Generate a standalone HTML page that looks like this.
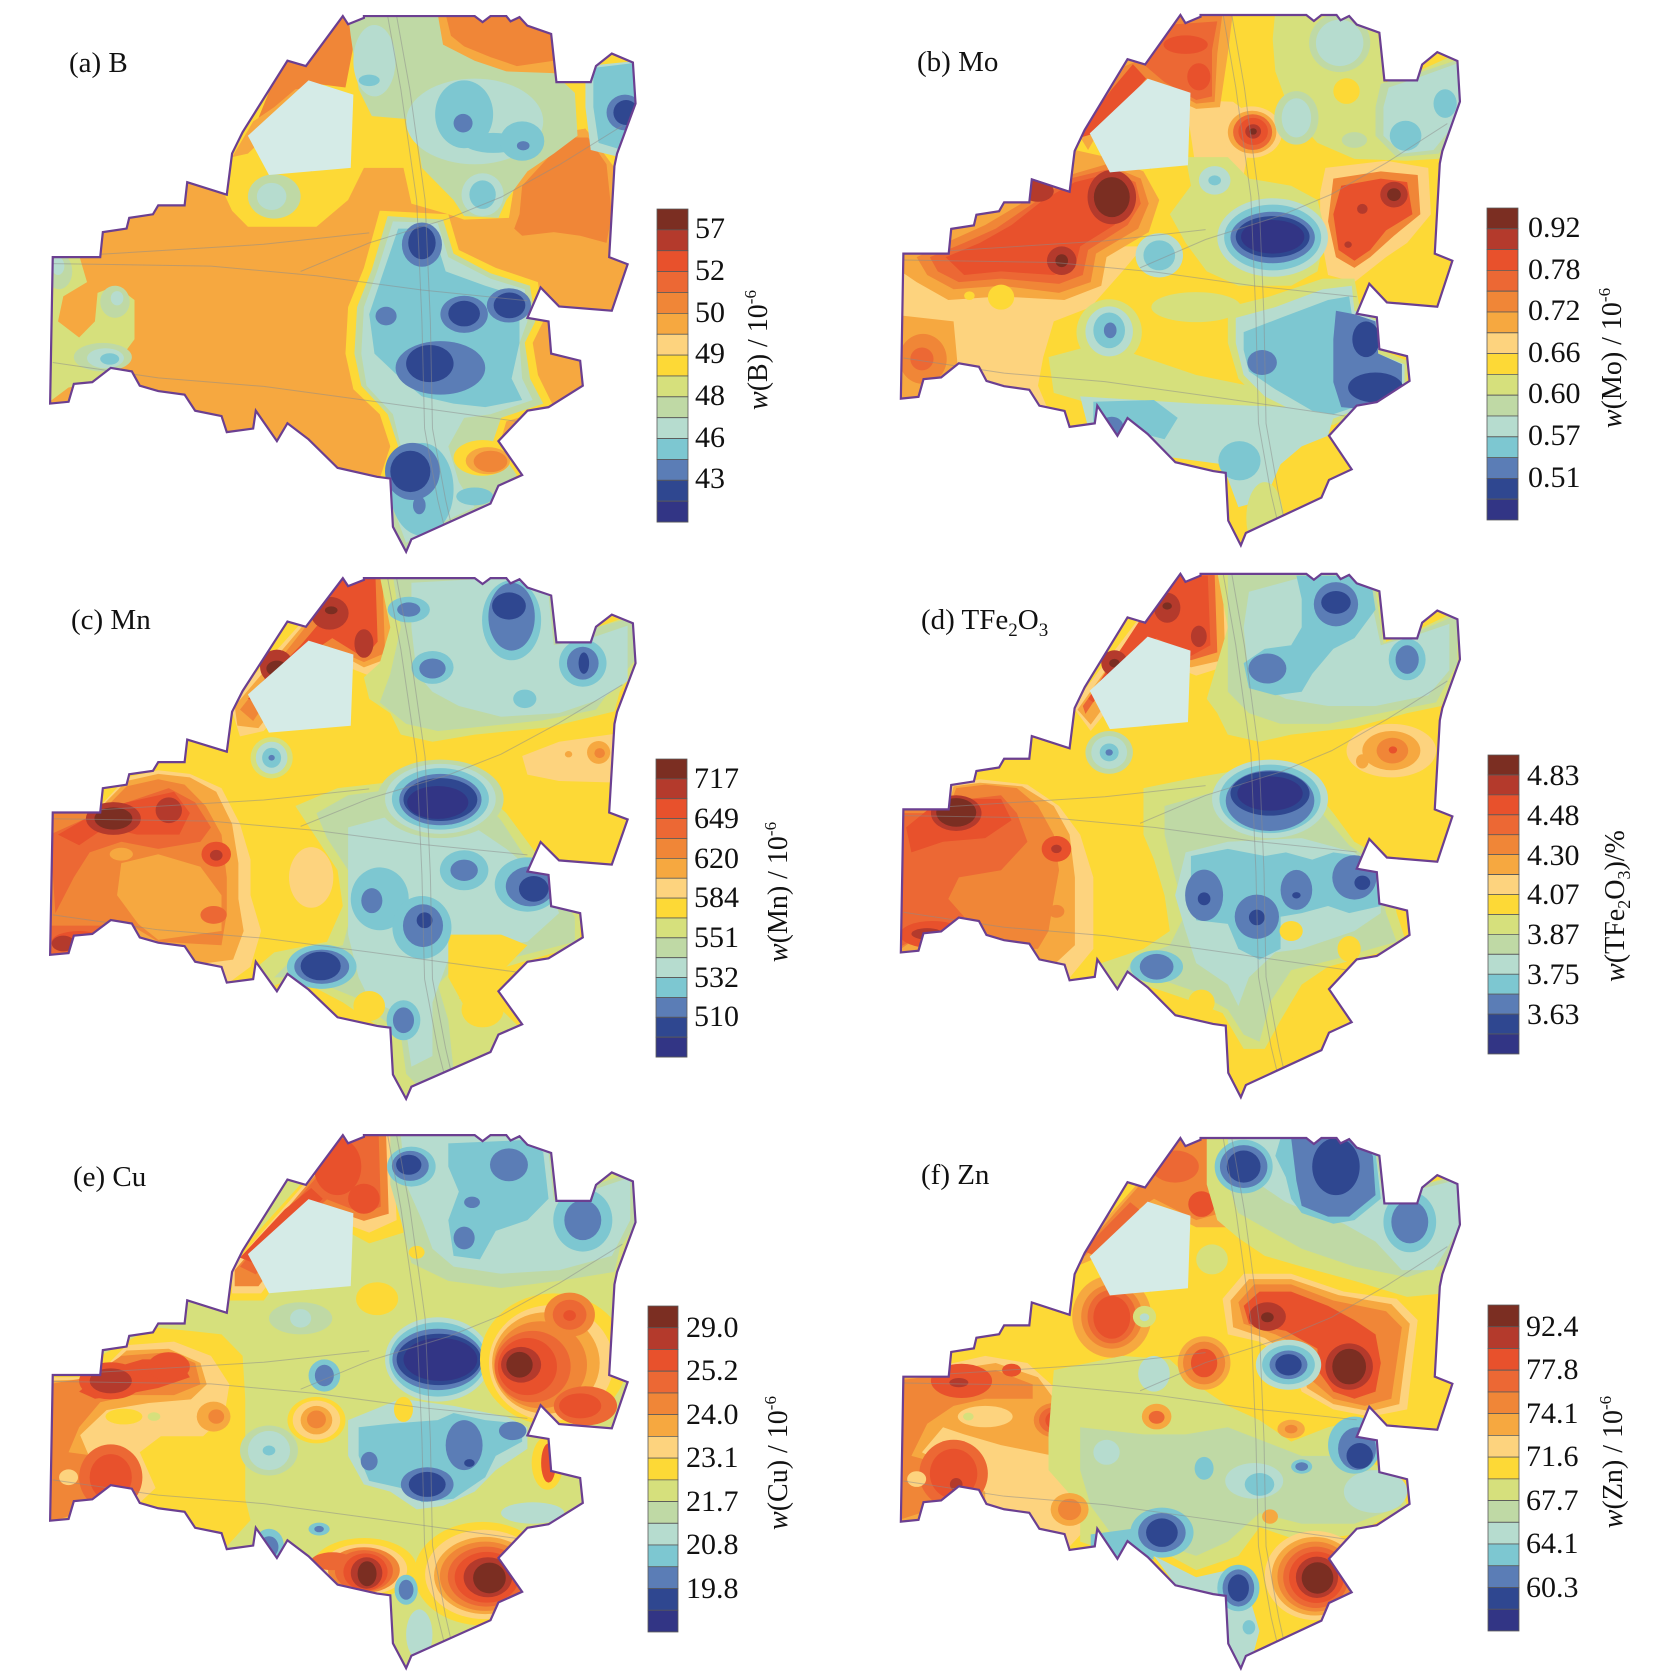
<!DOCTYPE html>
<html><head><meta charset="utf-8">
<style>
html,body{margin:0;padding:0;background:#fff;}
svg{display:block;}
.c1{fill:#7b2e22}.c2{fill:#b43a2c}.c3{fill:#e8512c}.c4{fill:#ec6834}.c5{fill:#f08637}.c6{fill:#f6a840}.c7{fill:#fdd37e}.c8{fill:#fdd936}.c9{fill:#d6e07c}.c10{fill:#bfd9a5}.c11{fill:#b6dccf}.c12{fill:#7dc7d1}.c13{fill:#5b7db6}.c14{fill:#2f4790}.c15{fill:#323585}
#cb rect{stroke:#5a5a5a;stroke-width:0.8px;vector-effect:non-scaling-stroke}
text{font-family:"Liberation Serif",serif;fill:#111}
.lb{font-size:30px}
.pl{font-size:29px}
.tt{font-size:28px}
</style></head>
<body>
<svg width="1654" height="1673" viewBox="0 0 1654 1673" xmlns="http://www.w3.org/2000/svg">
<defs>
<path id="ol" vector-effect="non-scaling-stroke" d="M650,45 L660,68 L690,50 L690,45 L900,45 L915,62 L930,45 L960,45 L968,60 L985,48 L1000,72 L1045,95 L1055,230 L1120,230 L1130,185 L1160,150 L1200,175 L1205,290 L1170,430 L1165,465 L1155,720 L1190,740 L1160,870 L1060,858 L1025,805 L1000,890 L1040,900 L1045,990 L1100,1010 L1105,1080 L1040,1140 L1000,1150 L945,1235 L990,1330 L945,1360 L930,1410 L780,1510 L770,1545 L745,1475 L740,1340 L715,1335 L640,1310 L585,1230 L545,1185 L525,1235 L485,1150 L480,1200 L430,1210 L420,1165 L370,1150 L350,1105 L300,1095 L265,1080 L250,1040 L210,1030 L175,1070 L140,1075 L130,1125 L95,1130 L100,720 L190,720 L195,650 L240,640 L245,610 L290,600 L300,575 L350,575 L355,510 L430,545 L440,430 L460,370 L545,170 L580,185 Z"/>
<path id="lk" d="M470,380 L585,225 L670,265 L665,470 L510,490 Z"/>
<g id="rd" fill="none">
<polyline vector-effect="non-scaling-stroke" points="735,45 760,250 790,560 800,900 805,1200 830,1400 850,1520"/>
<polyline vector-effect="non-scaling-stroke" points="752,45 777,250 806,560 816,900 820,1200 845,1400 862,1510"/>
<polyline vector-effect="non-scaling-stroke" points="100,738 400,745 600,772 800,812 1000,842"/>
<polyline vector-effect="non-scaling-stroke" points="190,712 500,684 700,652"/>
<polyline vector-effect="non-scaling-stroke" points="100,1015 300,1058 500,1082 700,1122 990,1182"/>
<polyline vector-effect="non-scaling-stroke" points="570,760 700,680 850,612 950,552 1060,462 1180,352"/>
<polyline vector-effect="non-scaling-stroke" points="600,380 665,380"/>
<polyline vector-effect="non-scaling-stroke" points="600,380 590,480"/>
</g>
<g id="cb">
<rect class="c1" x="0" y="0" width="1" height="1"/>
<rect class="c2" x="0" y="1" width="1" height="1"/>
<rect class="c3" x="0" y="2" width="1" height="1"/>
<rect class="c4" x="0" y="3" width="1" height="1"/>
<rect class="c5" x="0" y="4" width="1" height="1"/>
<rect class="c6" x="0" y="5" width="1" height="1"/>
<rect class="c7" x="0" y="6" width="1" height="1"/>
<rect class="c8" x="0" y="7" width="1" height="1"/>
<rect class="c9" x="0" y="8" width="1" height="1"/>
<rect class="c10" x="0" y="9" width="1" height="1"/>
<rect class="c11" x="0" y="10" width="1" height="1"/>
<rect class="c12" x="0" y="11" width="1" height="1"/>
<rect class="c13" x="0" y="12" width="1" height="1"/>
<rect class="c14" x="0" y="13" width="1" height="1"/>
<rect class="c15" x="0" y="14" width="1" height="1"/>
</g>
<clipPath id="clA"><use href="#ol"/></clipPath>
<clipPath id="clB"><use href="#ol" transform="matrix(0.955,0,0,0.99,49.3,-2.6)"/></clipPath>
<clipPath id="clC"><use href="#ol" transform="matrix(1,0,0,0.972,0,18.3)"/></clipPath>
<clipPath id="clD"><use href="#ol" transform="matrix(0.955,0,0,0.977,49.3,6)"/></clipPath>
<clipPath id="clE"><use href="#ol" transform="matrix(1,0,0,0.995,0,17.2)"/></clipPath>
<clipPath id="clF"><use href="#ol" transform="matrix(0.955,0,0,0.99,49.3,25.5)"/></clipPath>
</defs>
<rect width="1654" height="1673" fill="#fff"/>

<!-- ========== PANEL A ========== -->
<g transform="translate(0,0) scale(0.52742,0.35714)">
<g clip-path="url(#clA)">
<rect class="c6" width="1568" height="1568"/>
<polygon class="c8" points="380,0 1240,0 1240,480 1165,470 1140,420 1110,360 1070,370 1020,430 975,520 965,610 880,615 850,600 780,570 765,470 690,470 660,560 600,635 470,635 440,590 380,400"/>
<polygon class="c5" points="540,150 640,30 700,30 670,130 655,245 600,235 560,265 520,330 490,330"/>
<polygon class="c6" points="440,440 480,340 520,300 560,250 600,245 570,300 520,360 470,430"/>
<polygon class="c6" points="965,620 975,520 1020,430 1070,370 1110,360 1140,420 1165,470 1240,480 1240,800 1150,800"/>
<polygon class="c5" points="985,600 990,520 1040,440 1085,385 1115,385 1150,460 1160,600 1150,680 1100,660 1050,650 990,660 975,640"/>
<polygon class="c10" points="660,40 840,40 850,110 900,160 1000,195 1050,205 1090,260 1095,380 1050,430 1000,480 960,560 945,610 880,605 860,560 800,470 785,335 705,325 680,250 665,100"/>
<ellipse class="c11" cx="710" cy="170" rx="40" ry="100"/>
<ellipse class="c12" cx="700" cy="225" rx="20" ry="16"/>
<ellipse class="c11" cx="900" cy="340" rx="130" ry="120"/>
<ellipse class="c12" cx="935" cy="400" rx="55" ry="28"/>
<ellipse class="c12" cx="880" cy="320" rx="55" ry="95"/>
<ellipse class="c13" cx="878" cy="345" rx="18" ry="26"/>
<ellipse class="c12" cx="990" cy="395" rx="42" ry="55"/>
<ellipse class="c13" cx="992" cy="408" rx="12" ry="13"/>
<ellipse class="c11" cx="915" cy="545" rx="40" ry="60"/>
<ellipse class="c12" cx="915" cy="545" rx="25" ry="40"/>
<polygon class="c6" points="830,40 1010,40 1050,90 1055,205 960,200 900,170 840,125"/>
<polygon class="c5" points="845,40 1000,40 1045,95 1050,170 980,185 930,160 880,130 855,100"/>
<polygon class="c11" points="1110,185 1210,170 1215,300 1175,440 1120,420 1110,300"/>
<polygon class="c12" points="1125,190 1210,175 1212,300 1180,420 1135,400 1125,300"/>
<ellipse class="c13" cx="1185" cy="315" rx="35" ry="50"/>
<ellipse class="c14" cx="1187" cy="315" rx="24" ry="35"/>
<ellipse class="c10" cx="520" cy="550" rx="50" ry="62"/>
<ellipse class="c11" cx="515" cy="550" rx="28" ry="38"/>
<polygon class="c8" points="720,590 850,600 870,700 940,750 1020,790 1030,900 1010,960 1020,1050 1050,1140 960,1180 950,1230 995,1330 940,1370 930,1420 780,1510 770,1545 740,1470 720,1340 740,1250 720,1160 670,1090 655,990 660,860 690,750"/>
<polygon class="c10" points="735,605 840,615 860,710 930,765 1005,800 1015,900 995,960 1005,1060 1030,1130 950,1170 935,1235 980,1330 930,1410 780,1510 770,1545 745,1470 735,1340 755,1250 735,1160 685,1080 672,990 677,860 705,755"/>
<polygon class="c11" points="745,620 830,625 850,720 930,780 995,810 1000,900 985,960 990,1060 1010,1120 930,1160 880,1170 850,1250 870,1350 900,1420 800,1490 770,1520 755,1460 745,1340 760,1250 745,1160 695,1080 685,990 690,860 715,760"/>
<polygon class="c12" points="755,640 820,640 845,760 920,800 985,830 985,960 970,1060 990,1120 920,1140 860,1130 800,1110 760,1060 710,990 700,880 725,770"/>
<ellipse class="c12" cx="800" cy="1370" rx="60" ry="130"/>
<ellipse class="c12" cx="900" cy="1390" rx="35" ry="25"/>
<ellipse class="c13" cx="800" cy="685" rx="38" ry="62"/>
<ellipse class="c14" cx="800" cy="680" rx="26" ry="46"/>
<ellipse class="c13" cx="880" cy="880" rx="45" ry="52"/>
<ellipse class="c14" cx="880" cy="878" rx="30" ry="36"/>
<ellipse class="c13" cx="965" cy="855" rx="42" ry="48"/>
<ellipse class="c14" cx="966" cy="855" rx="30" ry="36"/>
<ellipse class="c13" cx="835" cy="1030" rx="85" ry="75"/>
<ellipse class="c14" cx="815" cy="1018" rx="45" ry="52"/>
<ellipse class="c13" cx="732" cy="885" rx="20" ry="26"/>
<ellipse class="c13" cx="782" cy="1320" rx="52" ry="80"/>
<ellipse class="c14" cx="778" cy="1320" rx="38" ry="58"/>
<ellipse class="c13" cx="795" cy="1415" rx="12" ry="25"/>
<ellipse class="c8" cx="915" cy="1282" rx="55" ry="50"/>
<ellipse class="c6" cx="925" cy="1290" rx="42" ry="38"/>
<ellipse class="c5" cx="930" cy="1292" rx="32" ry="30"/>
<polygon class="c9" points="80,700 150,715 165,790 120,830 110,900 150,945 180,900 185,820 220,800 255,840 255,950 230,1000 215,1035 170,1075 130,1085 80,1140"/>
<ellipse class="c10" cx="112" cy="760" rx="25" ry="50"/>
<ellipse class="c11" cx="110" cy="745" rx="12" ry="25"/>
<ellipse class="c10" cx="218" cy="845" rx="28" ry="45"/>
<ellipse class="c11" cx="222" cy="835" rx="12" ry="20"/>
<ellipse class="c10" cx="195" cy="1000" rx="55" ry="40"/>
<ellipse class="c11" cx="200" cy="1003" rx="35" ry="28"/>
<ellipse class="c12" cx="208" cy="1005" rx="18" ry="16"/>
<use href="#rd" stroke="#8c8c8c" stroke-opacity="0.5" stroke-width="1"/>
</g>
<use href="#lk" fill="#d5ebe7"/>
<use href="#ol" fill="none" stroke="#6b3f91" stroke-width="2.2"/>
</g>

<!-- ========== PANEL B ========== -->
<g transform="translate(827,0) scale(0.52742,0.35714)">
<g clip-path="url(#clB)">
<rect class="c8" width="1568" height="1568"/>
<polygon class="c7" points="100,690 600,690 560,760 500,860 430,900 410,1000 400,1080 420,1150 100,1160"/>
<polygon class="c7" points="680,280 770,285 810,330 790,490 700,480"/>
<polygon class="c6" points="120,880 240,900 250,1060 185,1070 180,1130 120,1140"/>
<ellipse class="c5" cx="182" cy="1005" rx="45" ry="70"/>
<ellipse class="c4" cx="180" cy="1005" rx="22" ry="32"/>
<polygon class="c6" points="470,360 560,170 600,150 660,30 770,30 760,150 745,300 700,305 610,245 530,330 495,420"/>
<polygon class="c5" points="485,370 565,185 605,160 665,35 750,35 740,150 735,285 700,290 640,240 560,285 515,345"/>
<polygon class="c4" points="600,180 640,70 740,60 730,140 730,270 700,280 640,230"/>
<ellipse class="c3" cx="680" cy="125" rx="42" ry="26"/>
<ellipse class="c3" cx="705" cy="215" rx="22" ry="38"/>
<polygon class="c3" points="470,390 540,250 580,180 605,220 560,300 515,370"/>
<polygon class="c6" points="140,700 235,650 240,605 290,600 300,575 375,565 380,505 460,470 470,420 530,440 600,480 630,560 610,650 530,720 520,800 450,840 330,830 230,840 170,790 140,760"/>
<polygon class="c5" points="170,720 240,670 300,630 380,560 460,490 530,460 595,500 610,570 590,640 510,710 500,790 440,820 330,800 240,810 190,770"/>
<polygon class="c4" points="195,720 260,680 320,640 390,570 460,500 530,475 585,510 595,570 570,630 495,700 485,770 440,795 330,780 250,790 210,760"/>
<polygon class="c3" points="225,720 290,680 350,630 410,560 470,510 525,490 570,520 575,580 545,630 480,690 470,750 430,770 330,760 260,770"/>
<ellipse class="c2" cx="540" cy="552" rx="46" ry="76"/>
<ellipse class="c1" cx="540" cy="552" rx="34" ry="56"/>
<ellipse class="c2" cx="445" cy="730" rx="28" ry="40"/>
<ellipse class="c1" cx="445" cy="730" rx="12" ry="18"/>
<ellipse class="c2" cx="400" cy="535" rx="30" ry="30"/>
<ellipse class="c8" cx="330" cy="832" rx="25" ry="35"/>
<ellipse class="c8" cx="270" cy="828" rx="10" ry="12"/>
<ellipse class="c7" cx="805" cy="370" rx="58" ry="72"/>
<ellipse class="c6" cx="806" cy="370" rx="46" ry="60"/>
<ellipse class="c4" cx="807" cy="370" rx="37" ry="50"/>
<ellipse class="c3" cx="808" cy="368" rx="28" ry="38"/>
<ellipse class="c2" cx="808" cy="368" rx="15" ry="20"/>
<ellipse class="c1" cx="808" cy="368" rx="7" ry="9"/>
<polygon class="c9" points="850,30 1010,30 1045,95 1060,230 1120,200 1210,140 1210,440 1100,450 1000,445 930,400 880,320 850,200 845,110"/>
<ellipse class="c10" cx="972" cy="120" rx="58" ry="82"/>
<ellipse class="c11" cx="972" cy="120" rx="45" ry="65"/>
<ellipse class="c8" cx="985" cy="255" rx="25" ry="36"/>
<ellipse class="c10" cx="890" cy="330" rx="42" ry="75"/>
<ellipse class="c11" cx="890" cy="330" rx="28" ry="55"/>
<polygon class="c10" points="1050,235 1120,205 1210,160 1210,340 1160,430 1080,440 1040,380 1040,300"/>
<polygon class="c11" points="1065,245 1125,215 1200,175 1200,330 1150,420 1090,430 1055,380 1055,300"/>
<ellipse class="c12" cx="1097" cy="380" rx="30" ry="42"/>
<ellipse class="c12" cx="1172" cy="290" rx="22" ry="40"/>
<ellipse class="c10" cx="1000" cy="392" rx="24" ry="22"/>
<polygon class="c7" points="945,470 1060,450 1140,470 1145,600 1100,680 1060,720 1000,790 950,770 935,650 935,540"/>
<polygon class="c5" points="960,500 1050,480 1120,490 1125,600 1075,660 1030,720 1000,750 965,720 950,620"/>
<polygon class="c3" points="975,520 1050,500 1100,510 1110,600 1060,645 1030,700 1000,730 970,700 960,600"/>
<ellipse class="c2" cx="1075" cy="545" rx="26" ry="36"/>
<ellipse class="c1" cx="1075" cy="545" rx="13" ry="18"/>
<ellipse class="c2" cx="1015" cy="585" rx="10" ry="14"/>
<ellipse class="c2" cx="988" cy="685" rx="7" ry="9"/>
<polygon class="c9" points="680,440 760,440 800,500 880,520 930,560 945,650 930,760 880,800 780,800 720,760 680,680 650,600 690,520"/>
<ellipse class="c11" cx="845" cy="665" rx="105" ry="110"/>
<ellipse class="c12" cx="845" cy="665" rx="92" ry="92"/>
<ellipse class="c13" cx="845" cy="665" rx="80" ry="72"/>
<ellipse class="c14" cx="845" cy="663" rx="70" ry="58"/>
<ellipse class="c15" cx="845" cy="663" rx="60" ry="47"/>
<ellipse class="c11" cx="735" cy="505" rx="30" ry="40"/>
<ellipse class="c12" cx="735" cy="505" rx="12" ry="14"/>
<ellipse class="c11" cx="630" cy="715" rx="45" ry="62"/>
<ellipse class="c12" cx="630" cy="715" rx="30" ry="42"/>
<ellipse class="c9" cx="700" cy="860" rx="85" ry="42"/>
<polygon class="c9" points="420,1000 520,960 600,1000 700,1050 800,1080 950,1110 960,1180 700,1150 500,1130 430,1100"/>
<ellipse class="c9" cx="535" cy="930" rx="62" ry="92"/>
<ellipse class="c11" cx="535" cy="928" rx="45" ry="70"/>
<ellipse class="c12" cx="535" cy="925" rx="30" ry="50"/>
<ellipse class="c13" cx="537" cy="925" rx="12" ry="22"/>
<polygon class="c9" points="760,860 840,830 940,780 1000,780 1010,860 1050,890 1050,980 1100,1010 1100,1090 1000,1160 960,1190 900,1180 820,1120 780,1060 760,960"/>
<polygon class="c11" points="775,890 850,860 940,810 995,800 1000,870 1045,900 1045,990 1095,1020 1095,1085 1000,1150 955,1175 905,1165 830,1110 790,1050 775,960"/>
<polygon class="c12" points="790,930 860,890 950,840 990,830 995,880 1040,900 1045,990 1090,1020 1090,1080 1000,1140 960,1160 920,1150 850,1090 800,1040 790,980"/>
<polygon class="c13" points="965,870 1000,880 1040,900 1045,990 1090,1020 1090,1080 1010,1145 975,1140 960,1070 960,950"/>
<ellipse class="c14" cx="1022" cy="950" rx="26" ry="50"/>
<ellipse class="c14" cx="1040" cy="1085" rx="52" ry="42"/>
<ellipse class="c13" cx="825" cy="1015" rx="28" ry="35"/>
<polygon class="c11" points="480,1110 700,1130 880,1140 960,1170 950,1220 900,1250 860,1300 830,1400 780,1420 750,1300 700,1290 650,1280 600,1210 550,1235 500,1225"/>
<polygon class="c12" points="505,1125 620,1120 665,1170 640,1230 600,1215 555,1235 505,1220"/>
<ellipse class="c13" cx="540" cy="1195" rx="22" ry="28"/>
<ellipse class="c12" cx="782" cy="1290" rx="40" ry="55"/>
<ellipse class="c9" cx="830" cy="1450" rx="35" ry="100"/>
<use href="#rd" transform="matrix(0.955,0,0,0.99,49.3,-2.6)" stroke="#8c8c8c" stroke-opacity="0.5" stroke-width="1"/>
</g>
<use href="#lk" transform="matrix(0.955,0,0,0.99,49.3,-2.6)" fill="#d5ebe7"/>
<use href="#ol" transform="matrix(0.955,0,0,0.99,49.3,-2.6)" fill="none" stroke="#6b3f91" stroke-width="2.2"/>
</g>

<!-- ========== PANEL C ========== -->
<g transform="translate(0,556) scale(0.52742,0.35714)">
<g clip-path="url(#clC)">
<rect class="c8" width="1568" height="1568"/>
<ellipse class="c7" cx="590" cy="900" rx="42" ry="85"/>
<polygon class="c7" points="990,560 1060,520 1180,495 1180,635 1060,630 1000,612"/>
<ellipse class="c6" cx="1135" cy="550" rx="22" ry="32"/>
<ellipse class="c5" cx="1137" cy="552" rx="10" ry="14"/>
<ellipse class="c6" cx="1078" cy="555" rx="7" ry="9"/>
<polygon class="c7" points="435,410 600,140 650,55 755,55 765,150 765,300 700,335 640,300 560,380 500,490 455,505"/>
<polygon class="c6" points="445,420 600,150 650,55 740,55 748,280 690,312 640,272 560,352 490,482 450,475"/>
<polygon class="c5" points="455,430 600,160 650,55 725,55 730,272 690,297 620,252 540,332 480,462"/>
<polygon class="c3" points="470,400 570,250 610,180 640,62 712,62 716,240 690,285 630,230 560,300 500,412"/>
<ellipse class="c2" cx="625" cy="160" rx="36" ry="46"/>
<ellipse class="c1" cx="628" cy="152" rx="12" ry="11"/>
<ellipse class="c2" cx="690" cy="245" rx="18" ry="40"/>
<ellipse class="c2" cx="525" cy="310" rx="32" ry="48"/>
<ellipse class="c1" cx="525" cy="315" rx="20" ry="22"/>
<polygon class="c7" points="80,700 190,700 240,620 300,600 360,610 420,650 455,750 475,850 475,950 495,1050 475,1150 420,1210 80,1210"/>
<polygon class="c6" points="80,705 190,705 240,630 300,610 360,620 410,660 440,750 452,860 452,960 462,1050 442,1130 80,1200"/>
<polygon class="c5" points="90,720 190,720 240,645 300,625 350,640 390,700 420,780 430,900 430,1000 420,1090 300,1080 255,1040 210,1030 170,1070 80,1120"/>
<polygon class="c6" points="230,860 300,835 380,870 420,950 420,1050 300,1075 262,1030 222,950"/>
<polygon class="c4" points="95,780 170,730 240,690 320,650 370,690 400,760 380,800 300,820 230,800 170,830 140,900 105,1000"/>
<polygon class="c3" points="110,780 180,720 240,690 330,660 360,720 340,780 260,780 200,760 150,810"/>
<ellipse class="c2" cx="215" cy="735" rx="52" ry="46"/>
<ellipse class="c1" cx="215" cy="735" rx="36" ry="31"/>
<ellipse class="c2" cx="320" cy="712" rx="25" ry="36"/>
<ellipse class="c3" cx="410" cy="835" rx="28" ry="35"/>
<ellipse class="c2" cx="410" cy="838" rx="12" ry="15"/>
<polygon class="c4" points="90,1035 205,1035 205,1110 80,1125"/>
<ellipse class="c3" cx="150" cy="1080" rx="52" ry="30"/>
<ellipse class="c2" cx="120" cy="1085" rx="22" ry="22"/>
<ellipse class="c6" cx="230" cy="835" rx="22" ry="18"/>
<ellipse class="c4" cx="405" cy="1005" rx="25" ry="25"/>
<ellipse class="c9" cx="515" cy="565" rx="40" ry="58"/>
<ellipse class="c11" cx="515" cy="565" rx="30" ry="45"/>
<ellipse class="c12" cx="515" cy="565" rx="18" ry="28"/>
<ellipse class="c13" cx="515" cy="565" rx="6" ry="8"/>
<polygon class="c9" points="720,55 1010,55 1045,100 1060,240 1130,200 1210,160 1210,300 1175,380 1165,435 1040,480 900,500 820,520 760,500 740,440 700,400 690,340 720,300 740,200"/>
<polygon class="c10" points="745,55 1005,55 1045,100 1060,240 1130,200 1205,170 1205,290 1160,370 1130,430 1030,460 900,480 830,490 770,470 720,410 740,330 760,200"/>
<polygon class="c11" points="780,75 900,65 1005,65 1040,110 1050,250 1120,230 1190,195 1190,350 1140,400 1060,440 950,450 870,420 820,380 790,330 780,200"/>
<ellipse class="c12" cx="970" cy="180" rx="56" ry="112"/>
<ellipse class="c13" cx="970" cy="170" rx="44" ry="95"/>
<ellipse class="c14" cx="965" cy="140" rx="32" ry="38"/>
<ellipse class="c12" cx="1105" cy="300" rx="45" ry="66"/>
<ellipse class="c13" cx="1105" cy="300" rx="30" ry="46"/>
<ellipse class="c14" cx="1107" cy="300" rx="10" ry="30"/>
<ellipse class="c12" cx="820" cy="312" rx="40" ry="46"/>
<ellipse class="c13" cx="820" cy="315" rx="25" ry="28"/>
<ellipse class="c12" cx="775" cy="150" rx="40" ry="36"/>
<ellipse class="c13" cx="775" cy="150" rx="22" ry="20"/>
<ellipse class="c12" cx="995" cy="400" rx="22" ry="26"/>
<polygon class="c9" points="560,700 640,650 760,630 900,640 960,720 1000,800 1040,880 1100,1010 1100,1090 960,1150 890,1200 870,1240 930,1240 985,1320 930,1400 780,1500 765,1520 745,1450 740,1340 700,1300 650,1250 560,1180 490,1220 480,1160 520,1110 620,1080 650,980 640,880 600,790"/>
<polygon class="c10" points="600,720 660,670 760,650 900,660 950,740 990,830 1030,900 1090,1010 1090,1080 960,1130 870,1140 830,1200 850,1300 860,1440 790,1480 770,1450 760,1340 720,1290 680,1240 580,1180 520,1180 560,1120 650,1090 670,980 660,880 620,790"/>
<polygon class="c11" points="660,760 760,720 880,740 960,820 1040,920 1060,1000 1000,1080 900,1100 850,1130 820,1250 820,1400 780,1430 770,1330 740,1270 700,1240 680,1180 660,1060 660,900"/>
<polygon class="c8" points="850,1060 950,1060 1000,1090 960,1150 900,1200 880,1260 850,1180"/>
<ellipse class="c8" cx="915" cy="1270" rx="40" ry="50"/>
<ellipse class="c8" cx="700" cy="1260" rx="30" ry="42"/>
<ellipse class="c12" cx="720" cy="960" rx="55" ry="88"/>
<ellipse class="c13" cx="705" cy="965" rx="20" ry="35"/>
<ellipse class="c12" cx="800" cy="1040" rx="56" ry="88"/>
<ellipse class="c13" cx="802" cy="1035" rx="38" ry="60"/>
<ellipse class="c14" cx="805" cy="1020" rx="15" ry="22"/>
<ellipse class="c12" cx="880" cy="880" rx="46" ry="56"/>
<ellipse class="c13" cx="880" cy="880" rx="26" ry="30"/>
<ellipse class="c12" cx="1000" cy="920" rx="62" ry="76"/>
<ellipse class="c13" cx="1005" cy="925" rx="46" ry="56"/>
<ellipse class="c14" cx="1012" cy="932" rx="28" ry="36"/>
<ellipse class="c12" cx="610" cy="1150" rx="66" ry="62"/>
<ellipse class="c13" cx="610" cy="1150" rx="52" ry="48"/>
<ellipse class="c14" cx="608" cy="1148" rx="38" ry="40"/>
<ellipse class="c12" cx="765" cy="1300" rx="32" ry="56"/>
<ellipse class="c13" cx="765" cy="1300" rx="20" ry="36"/>
<ellipse class="c10" cx="835" cy="680" rx="120" ry="110"/>
<ellipse class="c11" cx="835" cy="680" rx="105" ry="98"/>
<ellipse class="c12" cx="835" cy="680" rx="92" ry="86"/>
<ellipse class="c13" cx="835" cy="682" rx="78" ry="72"/>
<ellipse class="c14" cx="835" cy="682" rx="70" ry="60"/>
<ellipse class="c15" cx="830" cy="690" rx="58" ry="46"/>
<use href="#rd" transform="matrix(1,0,0,0.972,0,18.3)" stroke="#8c8c8c" stroke-opacity="0.5" stroke-width="1"/>
</g>
<use href="#lk" transform="matrix(1,0,0,0.972,0,18.3)" fill="#d5ebe7"/>
<use href="#ol" transform="matrix(1,0,0,0.972,0,18.3)" fill="none" stroke="#6b3f91" stroke-width="2.2"/>
</g>

<!-- ========== PANEL D ========== -->
<g transform="translate(827,556) scale(0.52742,0.35714)">
<g clip-path="url(#clD)">
<rect class="c8" width="1568" height="1568"/>
<ellipse class="c7" cx="1070" cy="545" rx="85" ry="75"/>
<ellipse class="c6" cx="1070" cy="545" rx="55" ry="55"/>
<ellipse class="c5" cx="1072" cy="545" rx="30" ry="36"/>
<ellipse class="c3" cx="1073" cy="543" rx="8" ry="10"/>
<ellipse class="c6" cx="1015" cy="575" rx="12" ry="20"/>
<polygon class="c7" points="465,420 630,100 665,45 770,45 775,150 775,300 700,335 640,300 560,380 500,490"/>
<polygon class="c6" points="475,430 630,110 665,45 750,45 755,290 690,312 640,272 560,352 500,472"/>
<polygon class="c4" points="485,420 630,120 665,50 735,50 740,270 690,292 620,252 540,332 490,442"/>
<polygon class="c3" points="495,400 620,120 650,55 722,55 727,250 690,280 625,230 555,300 505,410"/>
<ellipse class="c2" cx="645" cy="145" rx="25" ry="42"/>
<ellipse class="c1" cx="645" cy="140" rx="9" ry="10"/>
<ellipse class="c2" cx="545" cy="300" rx="25" ry="36"/>
<ellipse class="c1" cx="545" cy="300" rx="10" ry="12"/>
<ellipse class="c2" cx="705" cy="225" rx="15" ry="30"/>
<polygon class="c7" points="120,700 230,700 235,640 290,625 380,640 440,700 480,780 505,900 505,1000 505,1100 455,1190 120,1200"/>
<polygon class="c6" points="120,705 230,705 240,645 290,635 370,645 430,700 460,780 470,900 470,1000 470,1090 430,1145 120,1200"/>
<polygon class="c5" points="125,710 230,710 245,650 300,640 360,650 400,700 430,780 440,880 430,960 420,1050 400,1100 350,1100 300,1080 240,1020 170,1070 125,1115"/>
<polygon class="c4" points="130,720 230,720 270,680 330,670 360,720 380,800 330,880 250,900 230,960 260,1010 200,1050 130,1100"/>
<polygon class="c3" points="150,760 200,700 270,680 330,680 350,740 300,790 220,800 160,830"/>
<ellipse class="c2" cx="245" cy="720" rx="48" ry="50"/>
<ellipse class="c1" cx="245" cy="718" rx="38" ry="40"/>
<ellipse class="c3" cx="435" cy="820" rx="28" ry="36"/>
<ellipse class="c2" cx="435" cy="820" rx="10" ry="12"/>
<ellipse class="c3" cx="200" cy="1060" rx="62" ry="38"/>
<ellipse class="c2" cx="190" cy="1058" rx="30" ry="16"/>
<ellipse class="c5" cx="435" cy="995" rx="15" ry="18"/>
<ellipse class="c10" cx="535" cy="550" rx="45" ry="60"/>
<ellipse class="c11" cx="535" cy="550" rx="34" ry="46"/>
<ellipse class="c12" cx="535" cy="550" rx="18" ry="25"/>
<ellipse class="c13" cx="535" cy="550" rx="7" ry="9"/>
<polygon class="c9" points="740,45 1010,45 1045,100 1060,240 1130,200 1200,150 1200,300 1165,420 1100,440 1000,480 880,500 820,520 760,500 740,440 720,400 740,300 760,200"/>
<polygon class="c10" points="760,50 1005,50 1040,100 1055,245 1130,205 1195,165 1195,300 1155,410 1050,440 950,470 860,470 800,440 760,380 760,200"/>
<polygon class="c11" points="800,100 900,60 1005,60 1030,110 1050,250 1120,220 1180,190 1180,320 1140,390 1040,420 950,420 870,400 800,350 790,200"/>
<polygon class="c12" points="890,55 1030,55 1040,150 1000,230 960,260 920,330 900,380 850,390 800,370 790,300 830,260 880,250 900,200 900,120"/>
<ellipse class="c13" cx="965" cy="135" rx="42" ry="62"/>
<ellipse class="c14" cx="965" cy="130" rx="28" ry="32"/>
<ellipse class="c13" cx="835" cy="315" rx="36" ry="42"/>
<ellipse class="c12" cx="1100" cy="290" rx="35" ry="58"/>
<ellipse class="c13" cx="1100" cy="290" rx="22" ry="40"/>
<polygon class="c9" points="600,650 700,620 780,600 900,610 960,720 1000,800 1060,850 1080,1000 1100,1090 950,1150 900,1200 860,1300 830,1380 790,1380 750,1280 680,1240 600,1200 540,1230 500,1210 520,1140 600,1100 650,1050 640,950 620,850 600,780"/>
<polygon class="c10" points="640,700 760,650 900,650 950,740 990,810 1040,860 1060,1000 1080,1080 960,1130 880,1160 840,1250 820,1360 790,1340 760,1270 700,1220 620,1180 560,1180 580,1130 650,1090 680,1000 660,900 640,780"/>
<polygon class="c11" points="680,830 760,800 900,790 1000,830 1050,900 1050,1000 1000,1050 900,1100 850,1110 800,1180 780,1260 760,1200 700,1140 680,1050 660,950"/>
<polygon class="c12" points="690,840 760,820 830,840 870,830 920,850 960,830 1010,840 1045,900 1050,980 990,1000 950,980 900,1000 860,1010 860,1100 820,1130 780,1100 760,1030 700,1020 690,960"/>
<ellipse class="c13" cx="715" cy="950" rx="36" ry="72"/>
<ellipse class="c14" cx="715" cy="960" rx="12" ry="18"/>
<ellipse class="c13" cx="815" cy="1010" rx="42" ry="62"/>
<ellipse class="c14" cx="815" cy="1012" rx="15" ry="22"/>
<ellipse class="c13" cx="890" cy="935" rx="30" ry="56"/>
<ellipse class="c14" cx="890" cy="950" rx="8" ry="9"/>
<ellipse class="c13" cx="1000" cy="900" rx="42" ry="62"/>
<ellipse class="c14" cx="1015" cy="915" rx="15" ry="20"/>
<ellipse class="c12" cx="625" cy="1150" rx="50" ry="46"/>
<ellipse class="c13" cx="625" cy="1150" rx="32" ry="36"/>
<ellipse class="c8" cx="880" cy="1050" rx="22" ry="28"/>
<ellipse class="c8" cx="990" cy="1100" rx="22" ry="36"/>
<ellipse class="c8" cx="710" cy="1250" rx="25" ry="36"/>
<ellipse class="c8" cx="915" cy="1270" rx="35" ry="60"/>
<ellipse class="c11" cx="840" cy="680" rx="110" ry="110"/>
<ellipse class="c12" cx="840" cy="680" rx="96" ry="96"/>
<ellipse class="c13" cx="840" cy="685" rx="84" ry="85"/>
<ellipse class="c14" cx="840" cy="665" rx="75" ry="62"/>
<ellipse class="c15" cx="840" cy="665" rx="62" ry="48"/>
<use href="#rd" transform="matrix(0.955,0,0,0.977,49.3,6)" stroke="#8c8c8c" stroke-opacity="0.5" stroke-width="1"/>
</g>
<use href="#lk" transform="matrix(0.955,0,0,0.977,49.3,6)" fill="#d5ebe7"/>
<use href="#ol" transform="matrix(0.955,0,0,0.977,49.3,6)" fill="none" stroke="#6b3f91" stroke-width="2.2"/>
</g>

<!-- ========== PANEL E ========== -->
<g transform="translate(0,1113) scale(0.52742,0.35714)">
<g clip-path="url(#clE)">
<rect class="c9" width="1568" height="1568"/>
<polygon class="c8" points="435,420 600,150 650,55 760,55 765,200 765,335 700,365 650,325 560,405 500,525 435,525"/>
<polygon class="c7" points="440,430 600,160 650,55 745,55 752,300 700,335 640,302 560,382 495,505 440,505"/>
<polygon class="c5" points="445,440 600,170 650,58 732,58 737,282 690,302 630,272 555,362 490,485 445,485"/>
<polygon class="c4" points="455,430 600,180 650,62 718,62 722,262 690,282 620,242 550,332 485,452"/>
<ellipse class="c3" cx="640" cy="150" rx="45" ry="80"/>
<ellipse class="c3" cx="690" cy="240" rx="30" ry="42"/>
<polygon class="c3" points="455,405 540,270 590,210 612,240 560,322 490,425"/>
<polygon class="c8" points="80,730 190,730 190,680 240,640 290,600 360,610 420,620 460,680 465,800 465,960 465,1080 475,1140 420,1230 80,1230"/>
<polygon class="c7" points="80,740 180,740 240,650 330,640 400,680 435,760 425,850 385,905 305,905 265,950 295,1050 255,1105 180,1105 80,1150"/>
<polygon class="c6" points="80,750 180,745 240,665 320,660 380,700 392,760 362,802 282,812 202,832 152,902 172,972 232,992 252,1062 212,1102 80,1150"/>
<polygon class="c5" points="90,760 170,740 230,680 320,670 370,700 380,760 330,790 250,790 190,810 150,880 130,950 180,960 230,980 250,1060 200,1100 80,1150"/>
<polygon class="c3" points="150,780 200,720 270,690 340,690 360,740 300,770 230,790 180,800"/>
<ellipse class="c3" cx="210" cy="750" rx="60" ry="52"/>
<ellipse class="c2" cx="210" cy="750" rx="40" ry="35"/>
<ellipse class="c3" cx="320" cy="710" rx="40" ry="40"/>
<ellipse class="c4" cx="210" cy="1020" rx="60" ry="92"/>
<ellipse class="c3" cx="210" cy="1020" rx="40" ry="65"/>
<ellipse class="c6" cx="405" cy="850" rx="32" ry="42"/>
<ellipse class="c5" cx="410" cy="850" rx="15" ry="20"/>
<ellipse class="c8" cx="235" cy="850" rx="35" ry="22"/>
<ellipse class="c9" cx="292" cy="850" rx="12" ry="12"/>
<ellipse class="c7" cx="130" cy="1020" rx="18" ry="22"/>
<polygon class="c10" points="740,55 1010,55 1045,100 1060,240 1130,200 1210,160 1210,300 1175,380 1165,445 1060,470 950,490 850,470 780,420 760,300 740,200"/>
<polygon class="c11" points="760,65 1005,65 1040,110 1050,245 1125,215 1195,180 1195,300 1160,400 1060,440 950,450 860,430 820,380 800,300 770,200"/>
<polygon class="c12" points="850,85 1005,75 1030,110 1040,240 1000,300 940,330 910,410 860,400 850,300 870,220 850,150"/>
<ellipse class="c13" cx="965" cy="145" rx="36" ry="46"/>
<ellipse class="c13" cx="895" cy="250" rx="15" ry="16"/>
<ellipse class="c13" cx="880" cy="350" rx="20" ry="32"/>
<ellipse class="c12" cx="1105" cy="300" rx="56" ry="88"/>
<ellipse class="c13" cx="1105" cy="300" rx="35" ry="56"/>
<ellipse class="c12" cx="780" cy="150" rx="46" ry="56"/>
<ellipse class="c13" cx="778" cy="148" rx="35" ry="42"/>
<ellipse class="c14" cx="775" cy="145" rx="24" ry="28"/>
<ellipse class="c8" cx="790" cy="390" rx="15" ry="18"/>
<ellipse class="c8" cx="715" cy="520" rx="40" ry="46"/>
<ellipse class="c10" cx="570" cy="575" rx="60" ry="45"/>
<ellipse class="c11" cx="570" cy="575" rx="20" ry="26"/>
<ellipse class="c11" cx="830" cy="690" rx="100" ry="118"/>
<ellipse class="c12" cx="830" cy="690" rx="92" ry="104"/>
<ellipse class="c13" cx="830" cy="690" rx="86" ry="86"/>
<ellipse class="c14" cx="832" cy="690" rx="80" ry="72"/>
<ellipse class="c15" cx="835" cy="690" rx="70" ry="60"/>
<ellipse class="c8" cx="1050" cy="690" rx="140" ry="185"/>
<ellipse class="c7" cx="1045" cy="700" rx="118" ry="162"/>
<ellipse class="c6" cx="1035" cy="700" rx="102" ry="142"/>
<ellipse class="c5" cx="1025" cy="705" rx="88" ry="122"/>
<ellipse class="c4" cx="1010" cy="710" rx="72" ry="100"/>
<ellipse class="c3" cx="1000" cy="710" rx="56" ry="80"/>
<ellipse class="c2" cx="988" cy="705" rx="38" ry="50"/>
<ellipse class="c1" cx="985" cy="705" rx="25" ry="36"/>
<ellipse class="c5" cx="1080" cy="565" rx="48" ry="62"/>
<ellipse class="c4" cx="1080" cy="565" rx="32" ry="42"/>
<ellipse class="c3" cx="1080" cy="567" rx="12" ry="15"/>
<ellipse class="c4" cx="1110" cy="820" rx="60" ry="55"/>
<ellipse class="c3" cx="1100" cy="820" rx="40" ry="35"/>
<ellipse class="c12" cx="615" cy="735" rx="30" ry="45"/>
<ellipse class="c13" cx="615" cy="735" rx="18" ry="30"/>
<polygon class="c11" points="660,860 760,800 860,820 960,850 1000,880 1000,940 940,1000 900,1060 840,1100 790,1110 740,1060 690,1040 660,960"/>
<polygon class="c12" points="680,880 740,870 830,860 860,840 920,860 990,870 990,920 940,960 920,1020 860,1080 800,1090 760,1050 700,1030 680,960"/>
<ellipse class="c13" cx="700" cy="975" rx="16" ry="26"/>
<ellipse class="c13" cx="810" cy="1040" rx="50" ry="48"/>
<ellipse class="c14" cx="810" cy="1040" rx="35" ry="35"/>
<ellipse class="c13" cx="880" cy="930" rx="35" ry="70"/>
<ellipse class="c14" cx="890" cy="980" rx="10" ry="11"/>
<ellipse class="c13" cx="972" cy="890" rx="26" ry="26"/>
<ellipse class="c10" cx="510" cy="945" rx="55" ry="70"/>
<ellipse class="c11" cx="510" cy="945" rx="40" ry="55"/>
<ellipse class="c12" cx="510" cy="945" rx="12" ry="14"/>
<ellipse class="c8" cx="600" cy="860" rx="55" ry="65"/>
<ellipse class="c7" cx="600" cy="860" rx="45" ry="55"/>
<ellipse class="c6" cx="600" cy="860" rx="30" ry="40"/>
<ellipse class="c5" cx="600" cy="858" rx="18" ry="25"/>
<ellipse class="c8" cx="765" cy="830" rx="18" ry="35"/>
<ellipse class="c11" cx="1010" cy="1120" rx="60" ry="30"/>
<ellipse class="c12" cx="510" cy="1210" rx="28" ry="46"/>
<ellipse class="c13" cx="510" cy="1215" rx="18" ry="30"/>
<ellipse class="c12" cx="605" cy="1165" rx="20" ry="18"/>
<ellipse class="c13" cx="605" cy="1165" rx="9" ry="9"/>
<ellipse class="c8" cx="690" cy="1275" rx="100" ry="85"/>
<ellipse class="c7" cx="690" cy="1278" rx="82" ry="72"/>
<ellipse class="c5" cx="690" cy="1280" rx="68" ry="64"/>
<ellipse class="c4" cx="690" cy="1282" rx="55" ry="58"/>
<ellipse class="c4" cx="630" cy="1255" rx="40" ry="25"/>
<ellipse class="c3" cx="693" cy="1285" rx="42" ry="52"/>
<ellipse class="c2" cx="695" cy="1288" rx="30" ry="44"/>
<ellipse class="c1" cx="696" cy="1290" rx="18" ry="35"/>
<ellipse class="c8" cx="915" cy="1290" rx="130" ry="145"/>
<ellipse class="c7" cx="918" cy="1292" rx="112" ry="125"/>
<ellipse class="c6" cx="920" cy="1295" rx="97" ry="108"/>
<ellipse class="c5" cx="920" cy="1297" rx="86" ry="97"/>
<ellipse class="c4" cx="922" cy="1298" rx="73" ry="84"/>
<ellipse class="c3" cx="923" cy="1300" rx="61" ry="71"/>
<ellipse class="c2" cx="925" cy="1300" rx="46" ry="56"/>
<ellipse class="c1" cx="928" cy="1302" rx="31" ry="43"/>
<ellipse class="c12" cx="770" cy="1335" rx="22" ry="42"/>
<ellipse class="c13" cx="770" cy="1335" rx="14" ry="28"/>
<ellipse class="c11" cx="795" cy="1460" rx="25" ry="70"/>
<ellipse class="c8" cx="1038" cy="980" rx="30" ry="75"/>
<ellipse class="c3" cx="1040" cy="980" rx="14" ry="55"/>
<use href="#rd" transform="matrix(1,0,0,0.995,0,17.2)" stroke="#8c8c8c" stroke-opacity="0.5" stroke-width="1"/>
</g>
<use href="#lk" transform="matrix(1,0,0,0.995,0,17.2)" fill="#d5ebe7"/>
<use href="#ol" transform="matrix(1,0,0,0.995,0,17.2)" fill="none" stroke="#6b3f91" stroke-width="2.2"/>
</g>

<!-- ========== PANEL F ========== -->
<g transform="translate(827,1113) scale(0.52742,0.35714)">
<g clip-path="url(#clF)">
<rect class="c8" width="1568" height="1568"/>
<polygon class="c7" points="120,740 240,700 300,680 380,700 440,780 480,880 480,1000 460,1080 500,1150 450,1230 120,1230"/>
<polygon class="c6" points="125,745 230,720 320,700 400,740 440,820 460,900 430,960 330,930 260,900 220,880 180,950 230,990 300,1060 300,1110 125,1155"/>
<polygon class="c5" points="130,750 230,730 320,720 390,760 390,800 300,800 240,820 190,870 160,960 210,980 280,1030 290,1080 240,1090 125,1145"/>
<ellipse class="c3" cx="255" cy="750" rx="58" ry="48"/>
<ellipse class="c2" cx="250" cy="755" rx="18" ry="13"/>
<ellipse class="c3" cx="350" cy="720" rx="18" ry="18"/>
<ellipse class="c5" cx="430" cy="860" rx="38" ry="48"/>
<ellipse class="c4" cx="430" cy="860" rx="28" ry="36"/>
<ellipse class="c3" cx="432" cy="860" rx="18" ry="25"/>
<ellipse class="c4" cx="240" cy="1010" rx="65" ry="95"/>
<ellipse class="c3" cx="240" cy="1010" rx="45" ry="70"/>
<ellipse class="c2" cx="245" cy="1040" rx="12" ry="18"/>
<ellipse class="c7" cx="300" cy="850" rx="52" ry="30"/>
<ellipse class="c9" cx="268" cy="850" rx="10" ry="11"/>
<ellipse class="c7" cx="170" cy="1025" rx="18" ry="22"/>
<polygon class="c6" points="465,400 600,180 665,65 770,65 775,200 765,320 700,320 620,260 560,330 520,400 480,425"/>
<polygon class="c5" points="480,390 600,190 665,72 742,72 747,280 700,300 620,240 540,320 490,400"/>
<ellipse class="c4" cx="660" cy="150" rx="45" ry="45"/>
<ellipse class="c3" cx="710" cy="255" rx="25" ry="36"/>
<polygon class="c4" points="485,385 575,250 600,280 515,405"/>
<ellipse class="c6" cx="540" cy="570" rx="75" ry="115"/>
<ellipse class="c5" cx="540" cy="570" rx="58" ry="90"/>
<ellipse class="c4" cx="540" cy="570" rx="46" ry="75"/>
<ellipse class="c3" cx="540" cy="572" rx="35" ry="60"/>
<ellipse class="c9" cx="602" cy="570" rx="22" ry="30"/>
<ellipse class="c11" cx="602" cy="572" rx="9" ry="11"/>
<polygon class="c9" points="720,65 1010,65 1045,100 1060,240 1130,200 1210,165 1210,300 1175,420 1170,505 1100,515 1000,470 900,430 830,400 780,350 740,300 720,200"/>
<polygon class="c10" points="760,65 1005,65 1045,100 1060,240 1130,200 1205,175 1205,300 1180,420 1100,460 1000,430 900,380 840,330 780,280 760,200"/>
<polygon class="c11" points="760,75 880,70 1005,70 1040,110 1055,250 1120,215 1200,185 1200,320 1150,440 1090,440 1040,360 980,310 920,280 870,250 820,200 770,200"/>
<polygon class="c12" points="860,70 1005,70 1040,110 1050,240 1000,300 960,310 900,280 880,240 870,180 850,120"/>
<polygon class="c13" points="880,70 1010,70 1035,120 1040,230 990,290 950,290 900,260 890,190"/>
<ellipse class="c14" cx="965" cy="150" rx="45" ry="80"/>
<ellipse class="c12" cx="790" cy="150" rx="55" ry="75"/>
<ellipse class="c13" cx="790" cy="150" rx="45" ry="60"/>
<ellipse class="c14" cx="790" cy="150" rx="32" ry="45"/>
<ellipse class="c12" cx="1105" cy="305" rx="50" ry="85"/>
<ellipse class="c13" cx="1105" cy="305" rx="35" ry="60"/>
<ellipse class="c9" cx="730" cy="410" rx="30" ry="42"/>
<polygon class="c9" points="430,720 560,680 650,690 700,760 760,820 820,860 880,920 950,880 980,870 1000,960 1080,1010 1100,1100 1000,1180 900,1200 820,1160 780,1240 700,1280 600,1200 520,1220 480,1200 480,1100 420,1000 420,900"/>
<polygon class="c10" points="480,880 600,900 680,900 760,880 900,960 980,960 1060,1020 1090,1100 1000,1150 900,1150 820,1120 760,1200 700,1240 620,1200 540,1180 500,1100 480,1000"/>
<ellipse class="c11" cx="620" cy="730" rx="30" ry="50"/>
<ellipse class="c11" cx="530" cy="950" rx="25" ry="35"/>
<ellipse class="c12" cx="715" cy="995" rx="18" ry="32"/>
<ellipse class="c11" cx="810" cy="1030" rx="55" ry="50"/>
<ellipse class="c12" cx="820" cy="1040" rx="28" ry="32"/>
<ellipse class="c12" cx="900" cy="990" rx="20" ry="20"/>
<ellipse class="c13" cx="900" cy="990" rx="12" ry="12"/>
<ellipse class="c11" cx="1040" cy="1060" rx="60" ry="60"/>
<ellipse class="c12" cx="1000" cy="930" rx="50" ry="80"/>
<ellipse class="c13" cx="1005" cy="940" rx="36" ry="60"/>
<ellipse class="c14" cx="1010" cy="960" rx="25" ry="36"/>
<polygon class="c7" points="750,520 790,450 880,450 980,500 1080,520 1120,580 1110,700 1100,830 1030,850 960,830 900,780 880,700 820,640 760,620"/>
<polygon class="c6" points="765,525 800,465 880,465 970,510 1070,535 1105,590 1095,700 1085,815 1030,835 960,815 910,770 900,700 830,630 770,600"/>
<polygon class="c5" points="780,530 810,480 880,480 960,525 1060,555 1090,600 1080,700 1070,800 1020,820 960,800 920,750 920,670 850,620 790,590"/>
<polygon class="c3" points="790,540 820,500 880,500 950,540 1000,580 1040,620 1050,700 1040,780 1000,800 960,780 930,720 930,660 870,610 800,590"/>
<ellipse class="c2" cx="835" cy="570" rx="35" ry="40"/>
<ellipse class="c1" cx="835" cy="572" rx="12" ry="14"/>
<ellipse class="c2" cx="990" cy="710" rx="45" ry="65"/>
<ellipse class="c1" cx="990" cy="710" rx="32" ry="50"/>
<ellipse class="c6" cx="715" cy="700" rx="50" ry="75"/>
<ellipse class="c5" cx="715" cy="700" rx="40" ry="60"/>
<ellipse class="c3" cx="715" cy="700" rx="25" ry="40"/>
<ellipse class="c11" cx="875" cy="705" rx="62" ry="70"/>
<ellipse class="c12" cx="875" cy="705" rx="50" ry="55"/>
<ellipse class="c13" cx="875" cy="705" rx="36" ry="40"/>
<ellipse class="c14" cx="875" cy="705" rx="25" ry="30"/>
<ellipse class="c6" cx="460" cy="1110" rx="36" ry="46"/>
<ellipse class="c5" cx="460" cy="1110" rx="22" ry="30"/>
<ellipse class="c6" cx="625" cy="850" rx="28" ry="36"/>
<ellipse class="c4" cx="625" cy="852" rx="15" ry="18"/>
<ellipse class="c6" cx="880" cy="885" rx="26" ry="26"/>
<ellipse class="c5" cx="880" cy="885" rx="12" ry="12"/>
<ellipse class="c6" cx="840" cy="1130" rx="15" ry="20"/>
<polygon class="c12" points="500,1180 600,1160 620,1250 540,1240 500,1230"/>
<ellipse class="c12" cx="635" cy="1175" rx="60" ry="70"/>
<ellipse class="c13" cx="635" cy="1175" rx="45" ry="55"/>
<ellipse class="c14" cx="635" cy="1175" rx="30" ry="40"/>
<polygon class="c11" points="620,1240 700,1300 760,1280 800,1350 820,1450 800,1560 760,1560 700,1400 660,1320"/>
<ellipse class="c7" cx="925" cy="1295" rx="95" ry="125"/>
<ellipse class="c6" cx="925" cy="1297" rx="82" ry="110"/>
<ellipse class="c5" cx="926" cy="1298" rx="72" ry="98"/>
<ellipse class="c4" cx="927" cy="1300" rx="62" ry="86"/>
<ellipse class="c3" cx="928" cy="1300" rx="52" ry="72"/>
<ellipse class="c2" cx="929" cy="1300" rx="40" ry="58"/>
<ellipse class="c1" cx="930" cy="1302" rx="30" ry="44"/>
<ellipse class="c12" cx="780" cy="1330" rx="40" ry="65"/>
<ellipse class="c13" cx="780" cy="1330" rx="30" ry="52"/>
<ellipse class="c14" cx="780" cy="1330" rx="20" ry="38"/>
<ellipse class="c12" cx="800" cy="1440" rx="12" ry="20"/>
<use href="#rd" transform="matrix(0.955,0,0,0.99,49.3,25.5)" stroke="#8c8c8c" stroke-opacity="0.5" stroke-width="1"/>
</g>
<use href="#lk" transform="matrix(0.955,0,0,0.99,49.3,25.5)" fill="#d5ebe7"/>
<use href="#ol" transform="matrix(0.955,0,0,0.99,49.3,25.5)" fill="none" stroke="#6b3f91" stroke-width="2.2"/>
</g>

<!-- ========== COLORBARS ========== -->
<use href="#cb" transform="translate(657,209) scale(31,20.87)"/>
<use href="#cb" transform="translate(1487,208) scale(31,20.8)"/>
<use href="#cb" transform="translate(656,759) scale(31,19.87)"/>
<use href="#cb" transform="translate(1488,755) scale(31,19.93)"/>
<use href="#cb" transform="translate(648,1306) scale(30,21.73)"/>
<use href="#cb" transform="translate(1488,1305) scale(31,21.73)"/>

<g class="lb">
<text x="695" y="238">57</text><text x="695" y="280">52</text><text x="695" y="322">50</text><text x="695" y="363">49</text><text x="695" y="405">48</text><text x="695" y="447">46</text><text x="695" y="488">43</text>
<text x="1528" y="237">0.92</text><text x="1528" y="279">0.78</text><text x="1528" y="320">0.72</text><text x="1528" y="362">0.66</text><text x="1528" y="403">0.60</text><text x="1528" y="445">0.57</text><text x="1528" y="487">0.51</text>
<text x="694" y="788">717</text><text x="694" y="828">649</text><text x="694" y="868">620</text><text x="694" y="907">584</text><text x="694" y="947">551</text><text x="694" y="987">532</text><text x="694" y="1026">510</text>
<text x="1527" y="785">4.83</text><text x="1527" y="825">4.48</text><text x="1527" y="865">4.30</text><text x="1527" y="904">4.07</text><text x="1527" y="944">3.87</text><text x="1527" y="984">3.75</text><text x="1527" y="1024">3.63</text>
<text x="686" y="1337">29.0</text><text x="686" y="1380">25.2</text><text x="686" y="1424">24.0</text><text x="686" y="1467">23.1</text><text x="686" y="1511">21.7</text><text x="686" y="1554">20.8</text><text x="686" y="1598">19.8</text>
<text x="1526" y="1336">92.4</text><text x="1526" y="1379">77.8</text><text x="1526" y="1423">74.1</text><text x="1526" y="1466">71.6</text><text x="1526" y="1510">67.7</text><text x="1526" y="1553">64.1</text><text x="1526" y="1597">60.3</text>
</g>

<g class="tt">
<text transform="translate(767,350) rotate(-90)" text-anchor="middle"><tspan font-style="italic">w</tspan>(B) / 10<tspan font-size="17" dy="-11">-6</tspan></text>
<text transform="translate(1621,358) rotate(-90)" text-anchor="middle"><tspan font-style="italic">w</tspan>(Mo) / 10<tspan font-size="17" dy="-11">-6</tspan></text>
<text transform="translate(787,892) rotate(-90)" text-anchor="middle"><tspan font-style="italic">w</tspan>(Mn) / 10<tspan font-size="17" dy="-11">-6</tspan></text>
<text transform="translate(1624,906) rotate(-90)" text-anchor="middle"><tspan font-style="italic">w</tspan>(TFe<tspan font-size="18" dy="6">2</tspan><tspan dy="-6">O</tspan><tspan font-size="18" dy="6">3</tspan><tspan dy="-6">)/%</tspan></text>
<text transform="translate(787,1463) rotate(-90)" text-anchor="middle"><tspan font-style="italic">w</tspan>(Cu) / 10<tspan font-size="17" dy="-11">-6</tspan></text>
<text transform="translate(1622,1462) rotate(-90)" text-anchor="middle"><tspan font-style="italic">w</tspan>(Zn) / 10<tspan font-size="17" dy="-11">-6</tspan></text>
</g>

<g class="pl">
<text x="69" y="72">(a) B</text>
<text x="917" y="71">(b) Mo</text>
<text x="71" y="629">(c) Mn</text>
<text x="921" y="629">(d) TFe<tspan font-size="19" dy="7">2</tspan><tspan dy="-7">O</tspan><tspan font-size="19" dy="7">3</tspan></text>
<text x="73" y="1186">(e) Cu</text>
<text x="921" y="1184">(f) Zn</text>
</g>
</svg>
</body></html>
